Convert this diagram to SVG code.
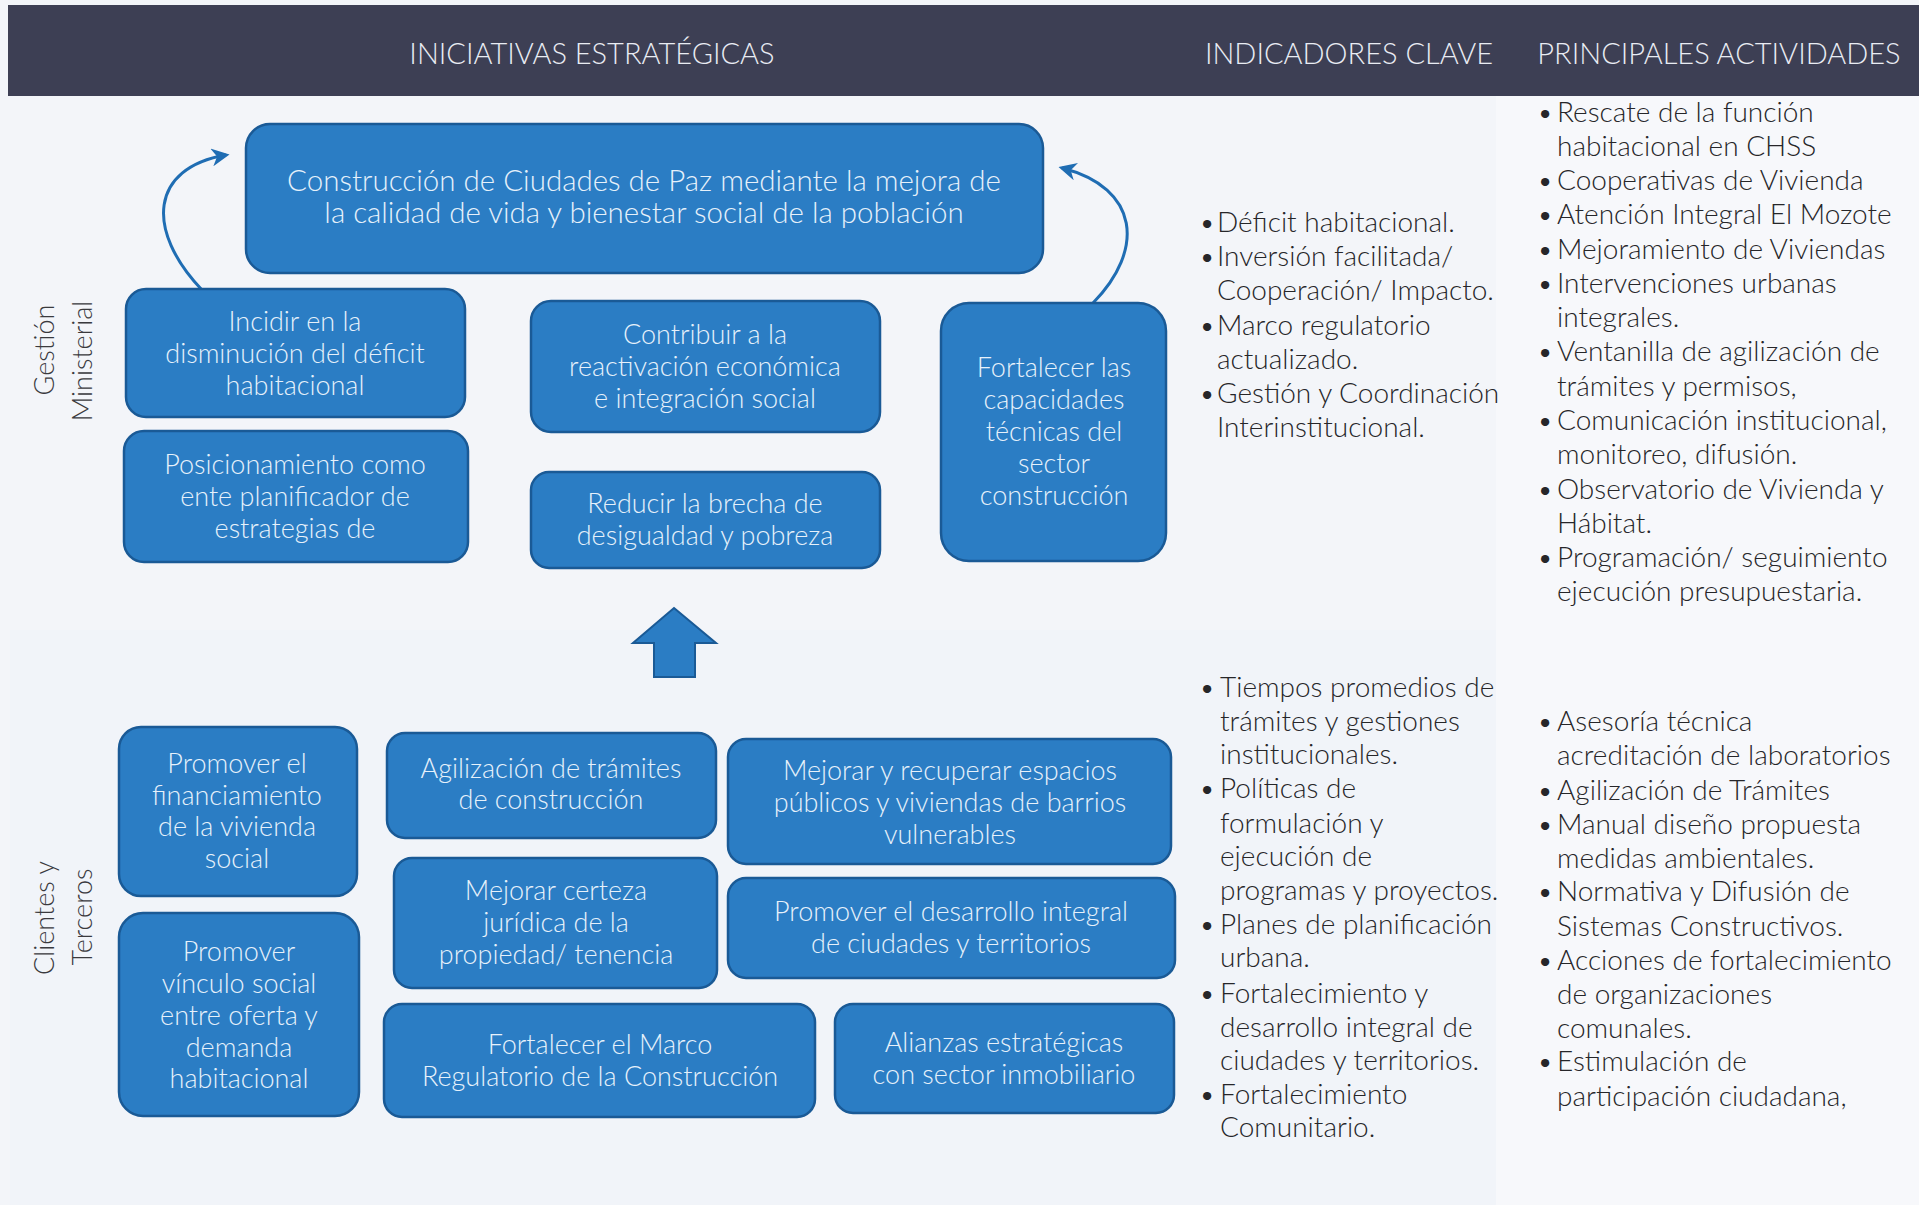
<svg xmlns="http://www.w3.org/2000/svg" width="1919" height="1205" viewBox="0 0 1919 1205">
<style>
.hdr{font-family:Lato,"Open Sans","Liberation Sans",sans-serif;font-weight:300;font-size:29px;fill:#e9ecf3;text-anchor:middle}
.box{fill:#2b7dc4;stroke:#1a5a96;stroke-width:2.5}
.bt{font-family:Lato,"Open Sans","Liberation Sans",sans-serif;font-weight:300;font-size:27px;fill:#e6f1fb;text-anchor:middle}
.lt{font-family:Lato,"Open Sans","Liberation Sans",sans-serif;font-weight:300;font-size:28px;fill:#262629}
.side{font-family:Lato,"Open Sans","Liberation Sans",sans-serif;font-weight:300;font-size:27px;fill:#3a3a3e;text-anchor:middle}
.arc{fill:none;stroke:#1f6db3;stroke-width:3}
</style>
<defs>
<marker id="ah" viewBox="0 0 10 10" refX="8" refY="5" markerWidth="6" markerHeight="6" orient="auto">
<path d="M0,0 L10,5 L0,10 L3,5 Z" fill="#1f6db3"/>
</marker>
</defs>
<rect x="0" y="0" width="1919" height="1205" fill="#f3f5f9"/>
<rect x="1496" y="95" width="423" height="1110" fill="#f7f8fb"/>
<rect x="10" y="630" width="1486" height="575" fill="#f1f4f9"/>
<rect x="8" y="5" width="1911" height="91" fill="#3d3f54"/>
<text class="hdr" x="592" y="64">INICIATIVAS ESTRATÉGICAS</text>
<text class="hdr" x="1349" y="64">INDICADORES CLAVE</text>
<text class="hdr" x="1719" y="64">PRINCIPALES ACTIVIDADES</text>

<g id="label-gestion">
<text class="side" transform="translate(54,350) rotate(-90)">Gestión</text>
<text class="side" transform="translate(92,361) rotate(-90)">Ministerial</text>
</g>
<g id="label-clientes">
<text class="side" transform="translate(54,918) rotate(-90)">Clientes y</text>
<text class="side" transform="translate(92,917) rotate(-90)">Terceros</text>
</g>

<g id="connectors">
<path class="arc" d="M202,290 C145,230 150,168 226,155" marker-end="url(#ah)"/>
<path class="arc" d="M1093,303 C1145,250 1140,188 1062,168" marker-end="url(#ah)"/>
<polygon points="674,608 716,643 695,643 695,677 654,677 654,643 633,643" fill="#2b7dc4" stroke="#1a5a96" stroke-width="2"/>
</g>

<g id="n-top">
<rect class="box" x="246" y="124" width="797" height="149" rx="24"/>
<text class="bt" style="font-size:29.5px"><tspan x="644" y="191">Construcción de Ciudades de Paz mediante la mejora de</tspan><tspan x="644" y="223">la calidad de vida y bienestar social de la población</tspan></text>
</g>
<g id="n-incidir">
<rect class="box" x="126" y="289" width="339" height="128" rx="20"/>
<text class="bt"><tspan x="295" y="331">Incidir en la</tspan><tspan x="295" y="363">disminución del déficit</tspan><tspan x="295" y="395">habitacional</tspan></text>
</g>
<g id="n-posicionamiento">
<rect class="box" x="124" y="431" width="344" height="131" rx="20"/>
<text class="bt"><tspan x="295" y="474">Posicionamiento como</tspan><tspan x="295" y="506">ente planificador de</tspan><tspan x="295" y="538">estrategias de</tspan></text>
</g>
<g id="n-contribuir">
<rect class="box" x="531" y="301" width="349" height="131" rx="20"/>
<text class="bt"><tspan x="705" y="344">Contribuir a la</tspan><tspan x="705" y="376">reactivación económica</tspan><tspan x="705" y="408">e integración social</tspan></text>
</g>
<g id="n-reducir">
<rect class="box" x="531" y="472" width="349" height="96" rx="18"/>
<text class="bt"><tspan x="705" y="513">Reducir la brecha de</tspan><tspan x="705" y="545">desigualdad y pobreza</tspan></text>
</g>
<g id="n-fortalecer-cap">
<rect class="box" x="941" y="303" width="225" height="258" rx="28"/>
<text class="bt"><tspan x="1054" y="377">Fortalecer las</tspan><tspan x="1054" y="409">capacidades</tspan><tspan x="1054" y="441">técnicas del</tspan><tspan x="1054" y="473">sector</tspan><tspan x="1054" y="505">construcción</tspan></text>
</g>

<g id="n-financiamiento">
<rect class="box" x="119" y="727" width="238" height="169" rx="22"/>
<text class="bt"><tspan x="237" y="773">Promover el</tspan><tspan x="237" y="805">financiamiento</tspan><tspan x="237" y="836">de la vivienda</tspan><tspan x="237" y="868">social</tspan></text>
</g>
<g id="n-vinculo">
<rect class="box" x="119" y="913" width="240" height="203" rx="24"/>
<text class="bt"><tspan x="239" y="961">Promover</tspan><tspan x="239" y="993">vínculo social</tspan><tspan x="239" y="1025">entre oferta y</tspan><tspan x="239" y="1057">demanda</tspan><tspan x="239" y="1088">habitacional</tspan></text>
</g>
<g id="n-agilizacion">
<rect class="box" x="387" y="733" width="329" height="105" rx="18"/>
<text class="bt"><tspan x="551" y="778">Agilización de trámites</tspan><tspan x="551" y="809">de construcción</tspan></text>
</g>
<g id="n-certeza">
<rect class="box" x="394" y="858" width="323" height="130" rx="18"/>
<text class="bt"><tspan x="556" y="900">Mejorar certeza</tspan><tspan x="556" y="932">jurídica de la</tspan><tspan x="556" y="964">propiedad/ tenencia</tspan></text>
</g>
<g id="n-espacios">
<rect class="box" x="728" y="739" width="443" height="125" rx="18"/>
<text class="bt"><tspan x="950" y="780">Mejorar y recuperar espacios</tspan><tspan x="950" y="812">públicos y viviendas de barrios</tspan><tspan x="950" y="844">vulnerables</tspan></text>
</g>
<g id="n-desarrollo">
<rect class="box" x="728" y="878" width="447" height="100" rx="18"/>
<text class="bt"><tspan x="951" y="921">Promover el desarrollo integral</tspan><tspan x="951" y="953">de ciudades y territorios</tspan></text>
</g>
<g id="n-marco">
<rect class="box" x="384" y="1004" width="431" height="113" rx="18"/>
<text class="bt"><tspan x="600" y="1054">Fortalecer el Marco</tspan><tspan x="600" y="1086">Regulatorio de la Construcción</tspan></text>
</g>
<g id="n-alianzas">
<rect class="box" x="835" y="1004" width="339" height="109" rx="18"/>
<text class="bt"><tspan x="1004" y="1052">Alianzas estratégicas</tspan><tspan x="1004" y="1084">con sector inmobiliario</tspan></text>
</g>

<g id="indicadores-1">
<text class="lt"><tspan x="1199" y="232">•</tspan><tspan x="1217" y="232">Déficit habitacional.</tspan><tspan x="1199" y="266">•</tspan><tspan x="1217" y="266">Inversión facilitada/</tspan><tspan x="1217" y="300">Cooperación/ Impacto.</tspan><tspan x="1199" y="335">•</tspan><tspan x="1217" y="335">Marco regulatorio</tspan><tspan x="1217" y="369">actualizado.</tspan><tspan x="1199" y="403">•</tspan><tspan x="1217" y="403">Gestión y Coordinación</tspan><tspan x="1217" y="437">Interinstitucional.</tspan></text>
</g>
<g id="actividades-1">
<text class="lt"><tspan x="1537" y="122">•</tspan><tspan x="1557" y="122">Rescate de la función</tspan><tspan x="1557" y="156">habitacional en CHSS</tspan><tspan x="1537" y="190">•</tspan><tspan x="1557" y="190">Cooperativas de Vivienda</tspan><tspan x="1537" y="224">•</tspan><tspan x="1557" y="224">Atención Integral El Mozote</tspan><tspan x="1537" y="259">•</tspan><tspan x="1557" y="259">Mejoramiento de Viviendas</tspan><tspan x="1537" y="293">•</tspan><tspan x="1557" y="293">Intervenciones urbanas</tspan><tspan x="1557" y="327">integrales.</tspan><tspan x="1537" y="361">•</tspan><tspan x="1557" y="361">Ventanilla de agilización de</tspan><tspan x="1557" y="396">trámites y permisos,</tspan><tspan x="1537" y="430">•</tspan><tspan x="1557" y="430">Comunicación institucional,</tspan><tspan x="1557" y="464">monitoreo, difusión.</tspan><tspan x="1537" y="499">•</tspan><tspan x="1557" y="499">Observatorio de Vivienda y</tspan><tspan x="1557" y="533">Hábitat.</tspan><tspan x="1537" y="567">•</tspan><tspan x="1557" y="567">Programación/ seguimiento</tspan><tspan x="1557" y="601">ejecución presupuestaria.</tspan></text>
</g>
<g id="indicadores-2">
<text class="lt"><tspan x="1199" y="697">•</tspan><tspan x="1220" y="697">Tiempos promedios de</tspan><tspan x="1220" y="731">trámites y gestiones</tspan><tspan x="1220" y="764">institucionales.</tspan><tspan x="1199" y="798">•</tspan><tspan x="1220" y="798">Políticas de</tspan><tspan x="1220" y="833">formulación y</tspan><tspan x="1220" y="866">ejecución de</tspan><tspan x="1220" y="900">programas y proyectos.</tspan><tspan x="1199" y="934">•</tspan><tspan x="1220" y="934">Planes de planificación</tspan><tspan x="1220" y="967">urbana.</tspan><tspan x="1199" y="1003">•</tspan><tspan x="1220" y="1003">Fortalecimiento y</tspan><tspan x="1220" y="1037">desarrollo integral de</tspan><tspan x="1220" y="1070">ciudades y territorios.</tspan><tspan x="1199" y="1104">•</tspan><tspan x="1220" y="1104">Fortalecimiento</tspan><tspan x="1220" y="1137">Comunitario.</tspan></text>
</g>
<g id="actividades-2">
<text class="lt"><tspan x="1537" y="731">•</tspan><tspan x="1557" y="731">Asesoría técnica</tspan><tspan x="1557" y="765">acreditación de laboratorios</tspan><tspan x="1537" y="800">•</tspan><tspan x="1557" y="800">Agilización de Trámites</tspan><tspan x="1537" y="834">•</tspan><tspan x="1557" y="834">Manual diseño propuesta</tspan><tspan x="1557" y="868">medidas ambientales.</tspan><tspan x="1537" y="901">•</tspan><tspan x="1557" y="901">Normativa y Difusión de</tspan><tspan x="1557" y="936">Sistemas Constructivos.</tspan><tspan x="1537" y="970">•</tspan><tspan x="1557" y="970">Acciones de fortalecimiento</tspan><tspan x="1557" y="1004">de organizaciones</tspan><tspan x="1557" y="1038">comunales.</tspan><tspan x="1537" y="1071">•</tspan><tspan x="1557" y="1071">Estimulación de</tspan><tspan x="1557" y="1106">participación ciudadana,</tspan></text>
</g>
</svg>
